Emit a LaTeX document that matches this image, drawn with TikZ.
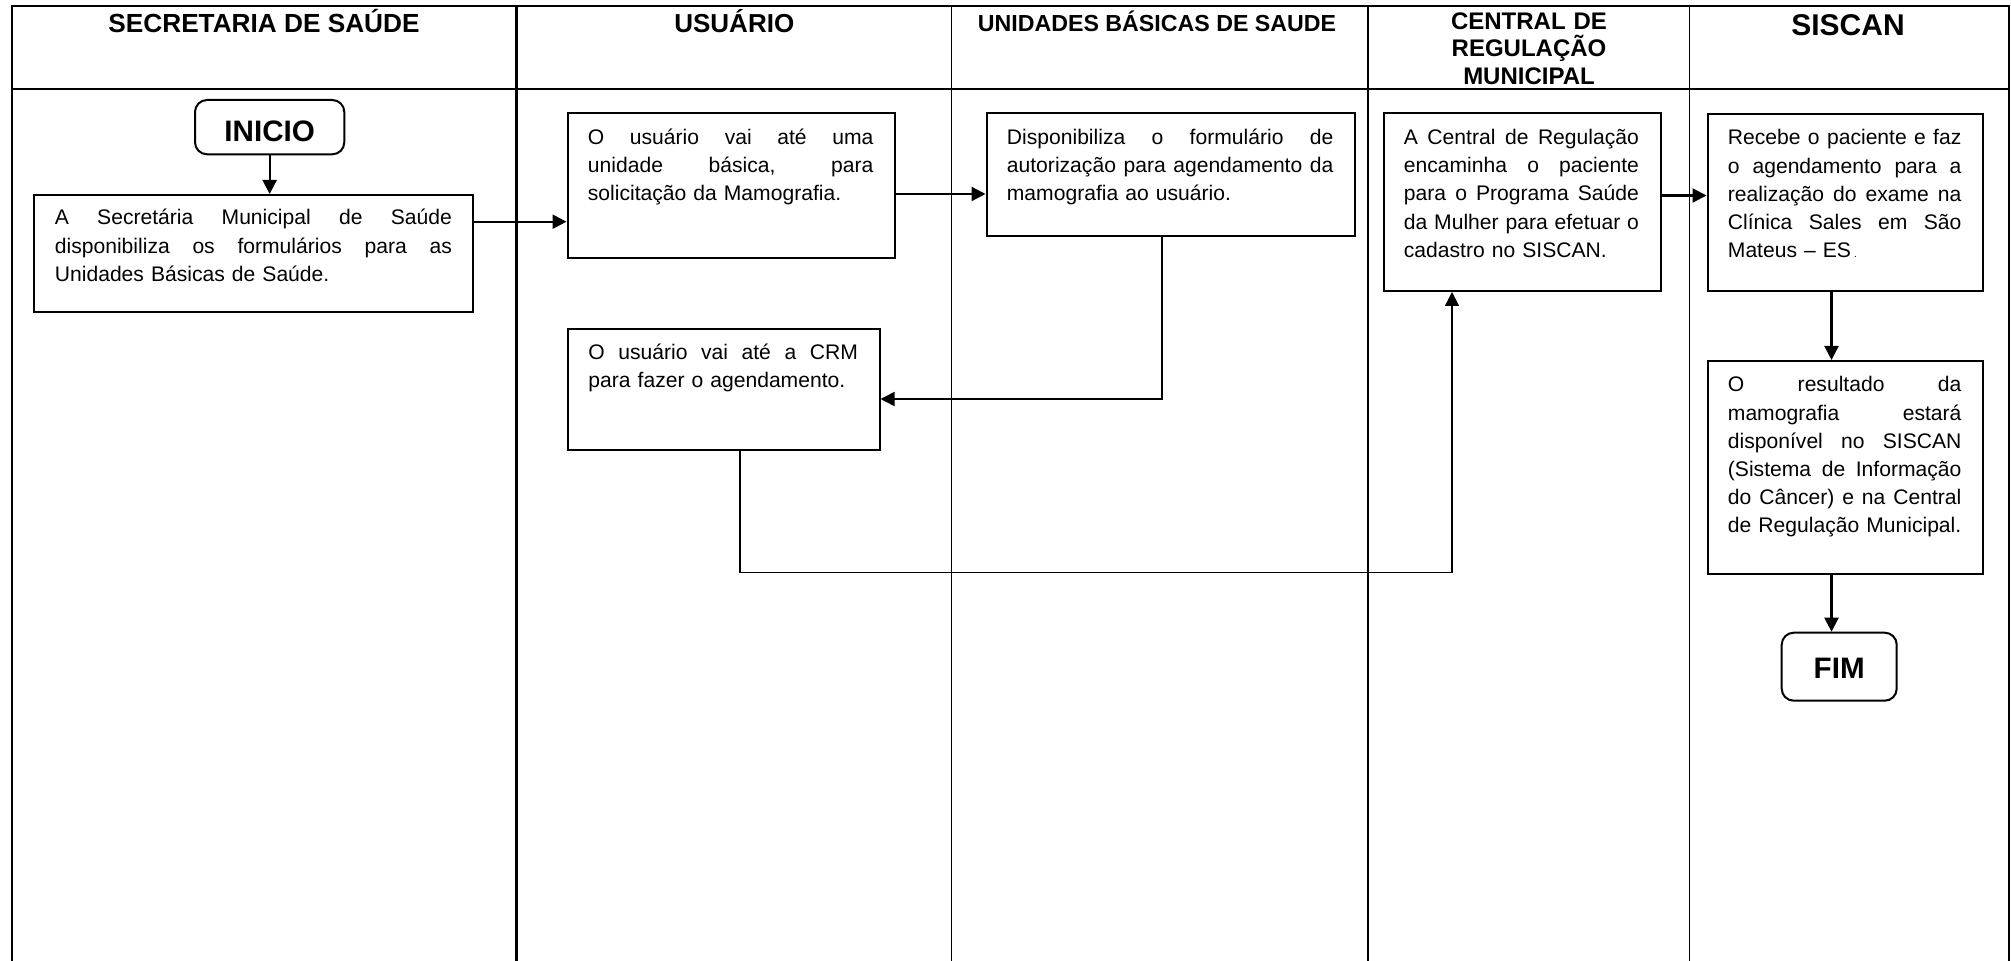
\documentclass[tikz,border=0pt]{standalone}
\usepackage{fontspec}
\setmainfont{Liberation Sans}
\usetikzlibrary{arrows.meta}
\newcommand\JL[1]{\hbox to \hsize{\spaceskip=0.278em plus 1fil\relax #1}\par}
\newcommand\LL[1]{\hbox to \hsize{#1\hfil}\par}
\tikzset{
  frame/.style={line width=1pt},
  colthick/.style={line width=1.3pt},
  colthin/.style={line width=0.8pt},
  hdr/.style={inner sep=0pt, anchor=base},
  box/.style={draw, line width=1pt, inner sep=0pt, anchor=north west},
  txt/.style={inner sep=0pt, anchor=base west, font=\fontsize{10.55pt}{14.1pt}\selectfont},
  term/.style={draw, line width=1pt, rounded corners=6pt, inner sep=0pt,
    font=\bfseries\fontsize{14.8pt}{16pt}\selectfont, text depth=0pt},
  arr/.style={line width=1.1pt, -{Triangle[length=7pt,width=7pt]}},
  arrthin/.style={line width=0.8pt, -{Triangle[length=7pt,width=7pt]}},
}
\begin{document}
\begin{tikzpicture}[x=0.5pt,y=-0.5pt]
\useasboundingbox (0,0) rectangle (2011,961);
% table frame
\draw[frame] (11.5,961) -- (11.5,6) -- (2009,6) -- (2009,961);
\draw[frame] (11.5,89.3) -- (2009,89.3);
\draw[colthick] (516.7,6) -- (516.7,961);
\draw[colthin] (951.5,6) -- (951.5,961);
\draw[colthin] (1368,6) -- (1368,961);
\draw[colthin] (1689.5,6) -- (1689.5,961);
% headers
\node[hdr, font=\bfseries\fontsize{13.1pt}{15pt}\selectfont] (hS) at (264,32.3) {SECRETARIA DE SAÚDE};
\node[hdr, font=\bfseries\fontsize{13pt}{15pt}\selectfont] (hU) at (734.3,32.3) {USUÁRIO};
\node[hdr, font=\bfseries\fontsize{11.6pt}{14pt}\selectfont] (hB) at (1157,31.7) {UNIDADES BÁSICAS DE SAUDE};
\node[hdr, font=\bfseries\fontsize{12pt}{13.75pt}\selectfont, text width=150pt, align=center] (hC) at (1529,29.5) {CENTRAL DE\\REGULAÇÃO\\MUNICIPAL};
\node[hdr, font=\bfseries\fontsize{15pt}{17pt}\selectfont] (hN) at (1848,36) {SISCAN};
% terminals
\node[term, minimum width=74.65pt, minimum height=27.15pt, text height=14.5pt] (inicio) at (269.65,127.15) {INICIO};
\node[term, minimum width=57.5pt, minimum height=34pt, text height=11.6pt] (fim) at (1839.2,666.7) {FIM};
% process boxes
\node[box, minimum width=219.5pt, minimum height=58.5pt] (sms) at (33,194) {};
\node[txt, text width=198.5pt] (smsT) at (54.5,225) {%
\JL{A Secretária Municipal de Saúde}%
\JL{disponibiliza os formulários para as}%
\LL{Unidades Básicas de Saúde.}};
\node[box, minimum width=163.75pt, minimum height=72.25pt] (usr1) at (566.5,112.5) {};
\node[txt, text width=142.75pt] (usr1T) at (587.5,144.5) {%
\JL{O usuário vai até uma}%
\JL{unidade básica, para}%
\LL{solicitação da Mamografia.}};
\node[box, minimum width=184.25pt, minimum height=61.25pt] (ubs) at (985.5,112.5) {};
\node[txt, text width=163.25pt] (ubsT) at (1006.5,144.5) {%
\JL{Disponibiliza o formulário de}%
\JL{autorização para agendamento da}%
\LL{mamografia ao usuário.}};
\node[box, minimum width=155.75pt, minimum height=60.5pt] (usr2) at (567,328) {};
\node[txt, text width=134.75pt] (usr2T) at (588,359.5) {%
\JL{O usuário vai até a CRM}%
\LL{para fazer o agendamento.}};
\node[box, minimum width=138.5pt, minimum height=88.75pt] (crm) at (1382.5,112.5) {};
\node[txt, text width=117.5pt] (crmT) at (1403.5,144.5) {%
\JL{A Central de Regulação}%
\JL{encaminha o paciente}%
\JL{para o Programa Saúde}%
\JL{da Mulher para efetuar o}%
\LL{cadastro no SISCAN.}};
\node[box, minimum width=137.75pt, minimum height=88.5pt] (sis1) at (1706.5,113) {};
\node[txt, text width=116.75pt] (sis1T) at (1727.5,145) {%
\JL{Recebe o paciente e faz}%
\JL{o agendamento para a}%
\JL{realização do exame na}%
\JL{Clínica Sales em São}%
\LL{Mateus – ES\hspace{1.5pt}{\tiny.}}};
\node[box, minimum width=137.75pt, minimum height=106.65pt] (sis2) at (1706.5,360) {};
\node[txt, text width=116.75pt] (sis2T) at (1727.5,392) {%
\JL{O resultado da}%
\JL{mamografia estará}%
\JL{disponível no SISCAN}%
\JL{(Sistema de Informação}%
\JL{do Câncer) e na Central}%
\LL{de Regulação Municipal.}};
% helper coordinates
\coordinate (ya) at (0,221.7);
\coordinate (yb) at (0,194);
\coordinate (yc) at (0,195.5);
\coordinate (c1) at (1162,399);
\coordinate (c2) at (740,572.5);
\coordinate (c3) at (1452,572.5);
\coordinate (c4) at (1831.5,0);
% connectors
\draw[arr] (inicio.south) -- (inicio.south |- sms.north);
\draw[arr] (sms.east |- ya) -- (usr1.west |- ya);
\draw[arr] (usr1.east |- yb) -- (ubs.west |- yb);
\draw[arrthin] (c1 |- ubs.south) -- (c1) -- (c1 -| usr2.east);
\draw[arrthin] (c2 |- usr2.south) -- (c2) -- (c3) -- (c3 |- crm.south);
\draw[arr] (crm.east |- yc) -- (sis1.west |- yc);
\draw[arr] (c4 |- sis1.south) -- (c4 |- sis2.north);
\draw[arr] (c4 |- sis2.south) -- (c4 |- fim.north);
\end{tikzpicture}
\end{document}
